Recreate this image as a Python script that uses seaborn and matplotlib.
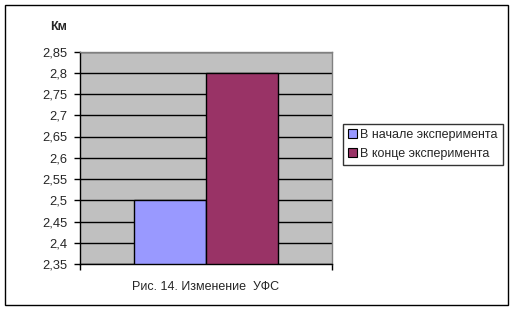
import matplotlib
matplotlib.use("Agg")
import matplotlib.pyplot as plt
import seaborn as sns
import pandas as pd
from matplotlib.patches import Rectangle

series = ["В начале эксперимента", "В конце эксперимента"]
values = [2.5, 2.8]
colors = ["#9999FF", "#993366"]
yticks = [2.35, 2.4, 2.45, 2.5, 2.55, 2.6, 2.65, 2.7, 2.75, 2.8, 2.85]
ytick_labels = ["2,35", "2,4", "2,45", "2,5", "2,55", "2,6", "2,65", "2,7", "2,75", "2,8", "2,85"]
xlabel = "Рис. 14. Изменение  УФС"
unit = "Км"

sns.set_style("white")
plt.rcParams["font.family"] = ["Liberation Sans", "DejaVu Sans"]

df = pd.DataFrame({"cat": ["x", "x"], "series": series, "value": values})

fig = plt.figure(figsize=(5.14, 3.10), dpi=100)
ax = fig.add_axes([80/514, 46/310, 252/514, 212.5/310])
ax.set_facecolor("#C0C0C0")
ax.set_axisbelow(True)
ax.yaxis.grid(True, color="black", linewidth=1)

sns.barplot(data=df, x="cat", y="value", hue="series", hue_order=series,
            palette=colors, width=0.575, dodge=True, edgecolor="black",
            linewidth=1, saturation=1, ax=ax, legend=False)
for p in ax.patches:
    h = p.get_height()
    p.set_y(2.0)
    p.set_height(h - 2.0)

ax.set_xlim(-0.5, 0.5)
ax.set_ylim(2.35, 2.85)
ax.set_yticks(yticks)
ax.set_yticklabels(ytick_labels, fontsize=9.3)
ax.set_xticks([-0.5, 0.5])
ax.set_xticklabels(["", ""])
ax.tick_params(axis="y", which="major", direction="out", length=4, width=1, color="black", pad=5, left=True)
ax.tick_params(axis="x", which="major", direction="out", length=4, width=1, color="black", bottom=True)
ax.set_xlabel(xlabel, fontsize=9, labelpad=5)
ax.set_ylabel("")

for s in ["top", "right"]:
    ax.spines[s].set_color("#808080")
    ax.spines[s].set_linewidth(1)
for s in ["left", "bottom"]:
    ax.spines[s].set_color("black")
    ax.spines[s].set_linewidth(1)

fig.text(59/514, 1 - 27/310, unit, fontsize=9, fontweight="bold", ha="center", va="center")

handles = [Rectangle((0, 0), 1, 1, facecolor=c, edgecolor="black", linewidth=0.8) for c in colors]
leg = fig.legend(handles, series, loc="upper left", bbox_to_anchor=(343/514, 1 - 124/310),
                 fontsize=9, frameon=True, fancybox=False, edgecolor="black",
                 handlelength=0.7, handleheight=0.7, handletextpad=0.3,
                 borderpad=0.4, labelspacing=0.55, borderaxespad=0)
leg.get_frame().set_linewidth(1)

fig.patches.append(Rectangle((5/514, 5/310), 503/514, 300/310, transform=fig.transFigure,
                             fill=False, edgecolor="black", linewidth=1))

fig.savefig("out.png", dpi=100)
